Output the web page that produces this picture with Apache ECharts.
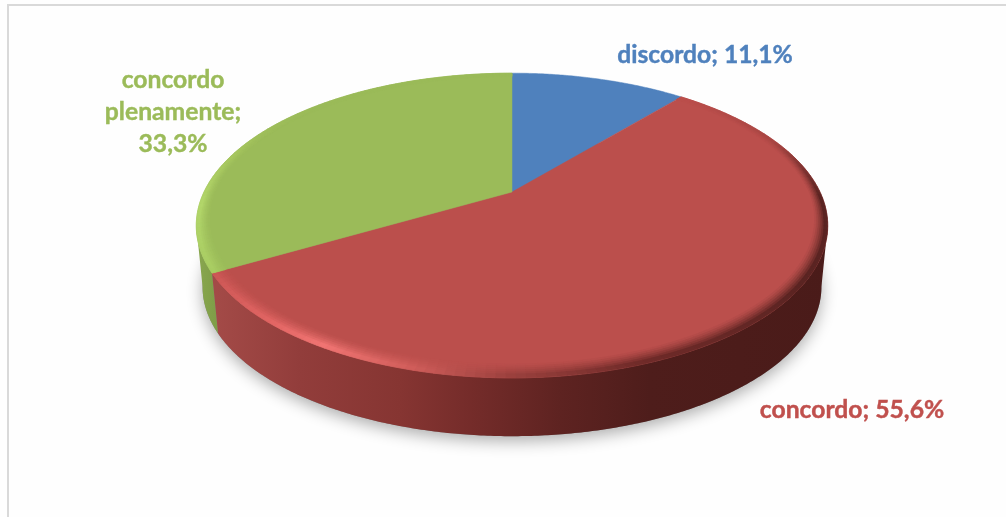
<!DOCTYPE html>
<html>
<head>
<meta charset="utf-8">
<style>html,body{margin:0;padding:0;background:#fff}#chart{width:1006px;height:517px}</style>
<script src="https://cdn.jsdelivr.net/npm/echarts@6/dist/echarts.min.js"></script>
</head>
<body>
<div id="chart"></div>
<script>
// Survey answers, in clockwise order from twelve o'clock
const categories = ['discordo', 'concordo', 'concordo plenamente'];
const shares = [11.1, 55.6, 33.3];
const labelLines = [['discordo; 11,1%'], ['concordo; 55,6%'], ['concordo', 'plenamente;', '33,3%']];
const topColors = ['#4f81bd', '#bb4f4c', '#9bbb59'];
const labelColors = ['#4f81bd', '#c0504d', '#9bbb59'];
const labelAnchors = [[705, 55], [852, 410], [173, 112]];

// Rim tint of each slice's top face, by clockwise angle in degrees
const rimStops = [
  [[0, '#4f81bd'], [40, '#4f81bd']],
  [[40, '#bb4f4c'], [68, '#a84643'], [92, '#5a2422'], [125, '#5a2422'], [160, '#6e2a28'],
   [180, '#9a403d'], [195, '#d05d5a'], [210, '#f07472'], [222, '#e06462'], [240, '#cc5755']],
  [[240, '#a8cc62'], [265, '#b2d66a'], [282, '#a8c860'], [300, '#9dbd5a'], [315, '#9bbb59'], [360, '#9bbb59']]
];

// Perspective view of the disc: the apex sits above the centre of its ellipse
const apexX = 512, apexY = 192;
const spanX = 308, spanY = 145, tilt = 0.22, depth = 62, wallShrink = 0.98;
// Angles where the side of the disc meets the outline of the ellipse
const sideRight = 90 + Math.asin(tilt) * 180 / Math.PI;
const sideLeft = 360 - sideRight;

function project(deg, r, dropped) {
  const a = deg * Math.PI / 180;
  const X = r * Math.sin(a), Y = r * Math.cos(a);
  const w = 1 + tilt * Y;
  const k = dropped ? wallShrink : 1;
  return [apexX + k * spanX * X / w, apexY - k * spanY * Y / w + (dropped ? depth : 0)];
}

function arc(from, to, r, dropped) {
  const pts = [];
  const n = Math.max(2, Math.ceil(Math.abs(to - from) / 0.5));
  for (let i = 0; i <= n; i++) pts.push(project(from + (to - from) * i / n, r, dropped));
  return pts;
}

function parseHex(c) {
  return [1, 3, 5].map(i => parseInt(c.substr(i, 2), 16));
}

function mix(c1, c2, t) {
  const a = parseHex(c1), b = parseHex(c2);
  return '#' + a.map((v, i) => Math.round(v + (b[i] - v) * t).toString(16).padStart(2, '0')).join('');
}

function rimColor(stops, deg) {
  for (let i = 1; i < stops.length; i++) {
    if (deg <= stops[i][0]) {
      return mix(stops[i - 1][1], stops[i][1], (deg - stops[i - 1][0]) / (stops[i][0] - stops[i - 1][0]));
    }
  }
  return stops[stops.length - 1][1];
}

const total = shares.reduce((s, v) => s + v, 0);
const starts = [];
shares.reduce((acc, v, i) => { starts[i] = acc; return acc + v; }, 0);
const sweep = i => [starts[i] / total * 360, (starts[i] + shares[i]) / total * 360];

const gradient = (stops) => new echarts.graphic.LinearGradient(195, 0, 828, 0,
  stops.map(s => ({ offset: (s[0] - 195) / 633, color: s[1] })), true);

const redWall = gradient([[217, '#a34a47'], [300, '#923d3b'], [400, '#863532'], [470, '#752c2a'],
  [560, '#5e2321'], [650, '#4e1d1b'], [828, '#4a1b19']]);
const greenWall = gradient([[195, '#8aa850'], [222, '#7c9a45']]);

// Radius of a rim ring: the bevel reads wider along the front of the disc
function ringRadius(inset, deg) {
  const front = Math.max(0, -Math.cos(deg * Math.PI / 180));
  return 1 - inset * (1 + 0.7 * front);
}

function drawDisc() {
  const kids = [];
  // soft contact shadow below the disc
  kids.push({
    type: 'polygon', shape: { points: arc(0, 360, 1, true) },
    style: { fill: '#888', shadowBlur: 16, shadowColor: 'rgba(0,0,0,0.32)', shadowOffsetX: 0, shadowOffsetY: 5 }
  });

  // outer walls of the two slices that face the viewer, limited by the disc outline
  const [, redTo] = sweep(1);
  const [greenFrom] = sweep(2);
  kids.push({
    type: 'polygon',
    shape: { points: arc(greenFrom, sideLeft, 1, false).concat(arc(sideLeft, greenFrom, 1, true)) },
    style: { fill: greenWall }
  });
  kids.push({
    type: 'polygon',
    shape: { points: arc(sideRight, redTo, 1, false).concat(arc(redTo, sideRight, 1, true)) },
    style: { fill: redWall }
  });

  // flat top faces
  shares.forEach((v, i) => {
    const [from, to] = sweep(i);
    kids.push({
      type: 'polygon',
      shape: { points: [[apexX, apexY]].concat(arc(from, to, 1, false)) },
      style: { fill: topColors[i], stroke: topColors[i], lineWidth: 0.5 }
    });
  });

  // bevelled rim: thin rings that fade from the rim tint into the face colour
  const insets = [0.03, 0.025, 0.02, 0.015, 0.01, 0.005];
  const step = 1.5;
  [1, 2].forEach(i => {
    const [from, to] = sweep(i);
    insets.forEach((inset, ringIndex) => {
      const weight = Math.pow((ringIndex + 1) / insets.length, 1.4);
      for (let a = from; a < to - 0.01; a += step) {
        const b = Math.min(a + step, to);
        const color = mix(topColors[i], rimColor(rimStops[i], (a + b) / 2), weight);
        kids.push({
          type: 'polygon',
          shape: {
            points: [
              project(a, ringRadius(inset - 0.005, a), false),
              project(b, ringRadius(inset - 0.005, b), false),
              project(b, ringRadius(inset + 0.005, b), false),
              project(a, ringRadius(inset + 0.005, a), false)
            ]
          },
          style: { fill: color, stroke: color, lineWidth: 0.6 }
        });
      }
    });
  });

  // slice captions
  labelLines.forEach((lines, i) => {
    lines.forEach((line, j) => {
      kids.push({
        type: 'text',
        style: {
          x: labelAnchors[i][0], y: labelAnchors[i][1] + (j - (lines.length - 1) / 2) * 32,
          text: line, fill: labelColors[i], stroke: labelColors[i], lineWidth: 0.4,
          align: 'center', verticalAlign: 'middle',
          font: 'bold 24.7px Lato, "Open Sans", sans-serif'
        }
      });
    });
  });
  return { type: 'group', children: kids };
}

const chart = echarts.init(document.getElementById('chart'), null, { renderer: 'canvas' });
chart.setOption({
  animation: false,
  backgroundColor: '#fefefe',
  graphic: [{
    type: 'polyline', silent: true,
    shape: { points: [[8, 517], [8, 5], [1006, 5]] },
    style: { stroke: '#d9d9d9', lineWidth: 2, fill: null }
  }],
  series: [{
    type: 'custom',
    coordinateSystem: 'none',
    silent: true,
    data: categories.map((name, i) => ({ name, value: shares[i] })),
    renderItem: (params) => params.dataIndex === 0 ? drawDisc() : null
  }]
});
</script>
</body>
</html>
